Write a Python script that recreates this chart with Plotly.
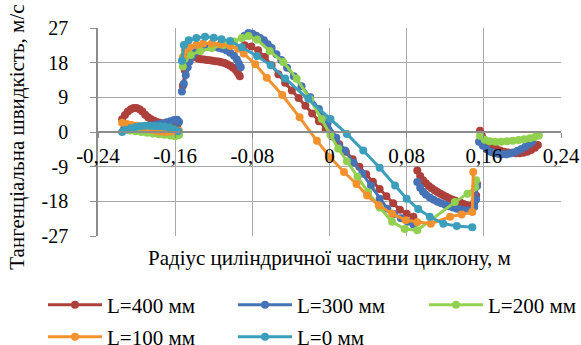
import plotly.graph_objects as go

# Tangential velocity profiles across the cylindrical part of the cyclone.
# Segments of each traverse are separated by None (no line across the walls).

l400_x = [-0.215, -0.212, -0.209, -0.206, -0.203, -0.200, -0.197, -0.194, -0.191, -0.188,
          -0.185, -0.182, -0.179, -0.176, -0.173, -0.170, -0.167, -0.164, -0.161, -0.158, None,
          -0.152, -0.150, -0.148, -0.145, -0.142, -0.139, -0.136, -0.133, -0.130, -0.127,
          -0.124, -0.121, -0.118, -0.115, -0.112, -0.109, -0.106, -0.103, -0.100, -0.097,
          -0.095, -0.093, None,
          -0.088, -0.081, -0.074, -0.067, -0.060, -0.053, -0.046, -0.039, -0.032, -0.025,
          -0.018, -0.011, -0.004, 0.003, 0.010, 0.017, 0.024, 0.031, 0.038, 0.045, 0.052,
          0.059, 0.066, 0.073, 0.080, 0.087, None,
          0.091, 0.094, 0.097, 0.100, 0.103, 0.106, 0.109, 0.112, 0.115, 0.118, 0.121, 0.124,
          0.127, 0.130, 0.133, 0.136, 0.139, 0.142, 0.145, 0.148, 0.150, 0.152, 0.153, None,
          0.156, 0.158, 0.161, 0.165, 0.169, 0.173, 0.177, 0.181, 0.185, 0.189, 0.193, 0.197,
          0.201, 0.205, 0.209, 0.213, 0.216]
l400_y = [3.3, 4.4, 5.3, 5.9, 6.2, 6.2, 5.9, 5.3, 4.5, 3.8,
          3.3, 2.9, 2.6, 2.4, 2.2, 2.1, 2.0, 2.0, 1.9, 1.7, None,
          12.0, 16.0, 19.0, 20.0, 19.8, 19.4, 19.1, 18.9, 18.8, 18.7,
          18.6, 18.5, 18.4, 18.3, 18.1, 17.9, 17.6, 17.2, 16.7, 16.0,
          15.3, 14.5, None,
          22.5, 22.2, 21.2, 19.5, 17.3, 15.0, 12.8, 10.8, 8.8, 6.8,
          4.8, 2.8, 0.8, -1.2, -3.2, -5.1, -7.1, -9.0, -11.0, -12.9, -14.8,
          -16.7, -18.5, -20.2, -21.2, -22.0, None,
          -10.0, -11.4, -12.5, -13.3, -14.0, -14.6, -15.1, -15.6, -16.0, -16.4, -16.8, -17.2,
          -17.5, -17.8, -18.1, -18.4, -18.7, -19.0, -19.2, -19.2, -18.4, -16.5, -13.5, None,
          0.3, -1.0, -2.2, -3.2, -3.9, -4.4, -4.8, -5.1, -5.3, -5.4, -5.5, -5.5,
          -5.4, -5.1, -4.7, -4.1, -3.4]

l300_x = [-0.213, -0.209, -0.205, -0.201, -0.197, -0.193, -0.189, -0.185, -0.181, -0.177,
          -0.173, -0.169, -0.165, -0.161, -0.158, -0.156, None,
          -0.153, -0.151, -0.149, -0.147, -0.145, -0.142, -0.139, -0.135, -0.131, -0.127,
          -0.123, -0.119, -0.115, -0.111, -0.107, -0.103, -0.099, -0.096, -0.094, -0.092, None,
          -0.088, -0.084, -0.080, -0.076, -0.072, -0.068, -0.064, -0.060, -0.055, -0.050,
          -0.044, -0.037, -0.029, -0.020, -0.011, -0.002, 0.007, 0.016, 0.025, 0.034, 0.043,
          0.052, 0.060, 0.067, 0.074, 0.081, 0.087, None,
          0.091, 0.094, 0.097, 0.100, 0.104, 0.108, 0.112, 0.116, 0.120, 0.124, 0.128, 0.132,
          0.136, 0.140, 0.144, 0.147, 0.150, 0.152, 0.153, None,
          0.155, 0.159, 0.163, 0.167, 0.171, 0.175, 0.179, 0.183, 0.187, 0.191, 0.195, 0.199,
          0.203, 0.207, 0.210]
l300_y = [0.8, 1.0, 1.1, 1.3, 1.4, 1.5, 1.6, 1.7, 1.8, 2.0,
          2.2, 2.5, 2.8, 3.1, 3.2, 2.6, None,
          10.5, 12.5, 14.8, 16.8, 18.3, 19.8, 20.8, 21.5, 21.9, 22.1,
          22.2, 22.1, 21.9, 21.6, 21.2, 20.6, 19.8, 18.8, 17.8, 16.8, None,
          25.0, 25.7, 25.5, 25.0, 24.4, 23.8, 22.8, 21.8, 20.2, 18.7,
          16.7, 14.5, 11.9, 9.0, 6.0, 2.3, -1.5, -4.8, -8.0, -10.8, -13.9,
          -17.3, -19.9, -21.3, -22.4, -23.3, -24.0, None,
          -13.0, -14.5, -15.5, -16.3, -17.0, -17.6, -18.1, -18.5, -18.9, -19.3, -19.6, -19.9,
          -20.1, -20.3, -20.4, -20.4, -19.5, -17.5, -14.0, None,
          -2.5, -3.6, -4.5, -5.1, -5.5, -5.7, -5.8, -5.8, -5.6, -5.3, -4.9, -4.4,
          -3.8, -3.1, -2.5]

l200_x = [-0.207, -0.201, -0.195, -0.189, -0.183, -0.177, -0.171, -0.165, -0.160, -0.156, None,
          -0.152, -0.150, -0.144, -0.134, -0.122, -0.110, -0.099, -0.091, -0.084, -0.075,
          -0.062, -0.048, -0.034, -0.020, -0.008, 0.001, 0.009, 0.018, 0.029, 0.040, 0.052,
          0.065, 0.078, 0.091, 0.130, 0.143, 0.151, 0.152, None,
          0.156, 0.161, 0.166, 0.172, 0.178, 0.184, 0.190, 0.196, 0.202, 0.208, 0.213, 0.217]
l200_y = [0.4, 0.2, 0.0, -0.2, -0.4, -0.6, -0.7, -0.9, -1.1, -0.8, None,
          17.0, 19.0, 20.0, 21.0, 21.8, 22.6, 23.5, 24.4, 24.9, 24.0,
          21.0, 18.2, 13.8, 8.5, 3.4, -0.8, -4.3, -7.6, -11.6, -15.6, -19.6,
          -23.3, -25.2, -25.5, -18.2, -16.0, -14.3, -12.5, None,
          -1.0, -2.0, -2.4, -2.5, -2.5, -2.4, -2.3, -2.1, -1.9, -1.6, -1.3, -0.9]

l100_x = [-0.215, -0.210, -0.205, -0.200, -0.195, -0.190, -0.185, -0.180, -0.175, -0.170,
          -0.165, -0.160, -0.156, None,
          -0.152, -0.150, -0.145, -0.138, -0.131, -0.122, -0.113, -0.103, -0.095, -0.089,
          -0.077, -0.065, -0.049, -0.031, -0.013, 0.001, 0.015, 0.028, 0.039, 0.051, 0.065,
          0.079, 0.091, 0.105, 0.125, 0.137, 0.148, 0.149]
l100_y = [2.4, 2.1, 1.8, 1.6, 1.3, 1.0, 0.6, 0.3, 0.1, 0.0,
          0.1, 0.2, 0.3, None,
          19.5, 21.2, 22.0, 22.6, 23.0, 23.0, 22.8, 22.3, 21.6, 20.4,
          17.6, 14.1, 9.6, 3.8, -2.3, -6.6, -10.4, -13.5, -16.5, -19.0, -21.2,
          -22.9, -23.4, -23.8, -22.0, -21.4, -20.8, -10.4]

l0_x = [-0.215, -0.211, -0.206, -0.201, -0.196, -0.191, -0.186, -0.181, -0.176, -0.171,
        -0.166, -0.161, -0.157, None,
        -0.153, -0.151, -0.146, -0.138, -0.129, -0.120, -0.112, -0.103, -0.091, -0.075,
        -0.061, -0.046, -0.022, 0.001, 0.018, 0.035, 0.052, 0.068, 0.080, 0.092, 0.104,
        0.118, 0.132, 0.148]
l0_y = [0.0, 0.6, 1.0, 1.3, 1.5, 1.6, 1.6, 1.5, 1.5, 1.4,
        1.2, 0.8, 0.2, None,
        18.5, 22.6, 23.8, 24.4, 24.7, 24.5, 24.1, 23.6, 22.0, 19.7,
        17.3, 13.9, 8.7, 3.4, -0.5, -4.8, -9.3, -13.9, -17.3, -20.0, -22.0,
        -23.8, -24.4, -24.7]

series_names = ["L=400 мм", "L=300 мм", "L=200 мм", "L=100 мм", "L=0 мм"]
series_colors = ["#AE403C", "#4673B6", "#92D050", "#F2922F", "#3B9FBB"]

x_ticks = [-0.24, -0.16, -0.08, 0, 0.08, 0.16, 0.24]
x_tick_labels = ["-0,24", "-0,16", "-0,08", "0", "0,08", "0,16", "0,24"]
y_ticks = [-27, -18, -9, 0, 9, 18, 27]
y_tick_labels = ["-27", "-18", "-9", "0", "9", "18", "27"]

W, H = 581, 345
SERIF = "Liberation Serif, Times New Roman, serif"
text_font = dict(family=SERIF, size=21, color="#000000")

# legend entry anchors (left edge, vertical centre) in pixels
legend_slots = [(43, 305), (233, 305), (424, 305), (43, 337), (233, 337)]

fig = go.Figure()
all_x = [l400_x, l300_x, l200_x, l100_x, l0_x]
all_y = [l400_y, l300_y, l200_y, l100_y, l0_y]
legend_ids = ["legend", "legend2", "legend3", "legend4", "legend5"]
for xs, ys, name, color, lg in zip(all_x, all_y, series_names, series_colors, legend_ids):
    fig.add_trace(go.Scatter(
        x=xs, y=ys, name=name, mode="lines+markers",
        line=dict(color=color, width=3),
        marker=dict(color=color, size=8),
        connectgaps=False, legend=lg,
    ))

legend_layout = {}
for lg, (lx, ly) in zip(legend_ids, legend_slots):
    legend_layout[lg] = dict(
        xref="container", yref="container",
        x=lx / W, y=1 - ly / H, xanchor="left", yanchor="middle",
        itemwidth=54,
        font=text_font, bgcolor="rgba(0,0,0,0)", borderwidth=0,
    )

grid = "#A8A8A8"
axis_line = "#8C8C8C"

fig.update_layout(
    width=W, height=H,
    margin=dict(l=97.5, r=20.3, t=27.7, b=109, autoexpand=False),
    paper_bgcolor="white", plot_bgcolor="white",
    font=text_font,
    showlegend=True,
    xaxis=dict(
        range=[-0.24, 0.24], tickvals=x_ticks, ticktext=x_tick_labels,
        showgrid=True, gridcolor=grid, gridwidth=1.3, zeroline=False,
        showline=True, linecolor=axis_line, linewidth=1.5,
        anchor="free", position=0.5, automargin=False, tickangle=0,
        ticks="outside", ticklen=5, tickcolor=axis_line, tickwidth=1.3,
        tickfont=text_font,
    ),
    yaxis=dict(
        range=[-27, 27], tickvals=y_ticks, ticktext=y_tick_labels,
        showgrid=True, gridcolor=grid, gridwidth=1.3, zeroline=False,
        showline=True, linecolor=axis_line, linewidth=1.5, automargin=False,
        ticks="outside", ticklen=6, tickcolor=axis_line, tickwidth=1.3,
        ticklabelstandoff=18, tickfont=dict(family=SERIF, size=20, color="#000000"),
    ),
    annotations=[
        dict(text="Радіус циліндричної частини циклону, м",
             xref="paper", yref="paper", x=0.5, y=-0.105, yanchor="middle",
             showarrow=False, font=text_font),
        dict(text="Тангенціальна швидкість, м/с", textangle=-90,
             xref="paper", yref="paper", x=-0.1738, y=0.475,
             xanchor="center", yanchor="middle",
             showarrow=False, font=text_font),
    ],
    **legend_layout,
)

fig.write_html("out.html")
